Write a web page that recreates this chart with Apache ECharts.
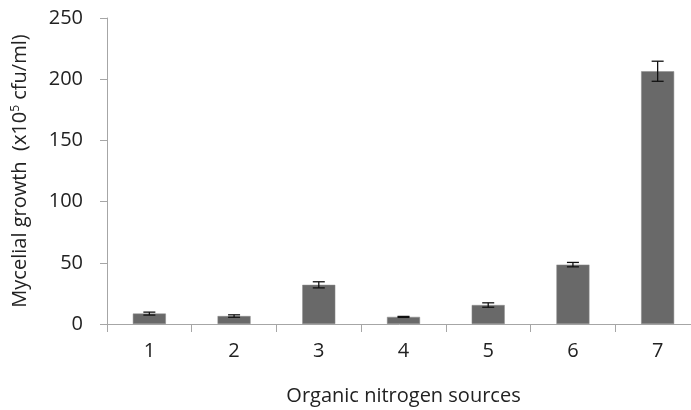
<!DOCTYPE html>
<html><head><meta charset="utf-8">
<script src="https://cdn.jsdelivr.net/npm/echarts@6/dist/echarts.min.js"></script>
<style>html,body{margin:0;padding:0;background:#fff}#c{width:691px;height:410px}</style>
</head><body><div id="c"></div>
<script>
var categories = ['1','2','3','4','5','6','7'];
var values = [8.5, 6.5, 32, 5.8, 15.5, 48.5, 206.5];
var errors = [1.2, 1.0, 2.5, 0.4, 1.8, 1.8, 8.2];
var yTicks = [0, 50, 100, 150, 200, 250];

var font = '"Open Sans", "Noto Sans", sans-serif';
var chart = echarts.init(document.getElementById('c'));
var errData = values.map(function(v, i){ return [i, v - errors[i], v + errors[i]]; });
chart.setOption({
  animation: false,
  grid: {left: 107, top: 18, bottom: 86, right: -9, outerBoundsMode: 'none', containLabel: false},
  xAxis: {
    type: 'category', data: categories, boundaryGap: true,
    axisLine: {lineStyle: {color: '#a6a6a6', width: 1}},
    axisTick: {show: true, length: 8, alignWithLabel: false, lineStyle: {color: '#a6a6a6'}},
    axisLabel: {color: '#222', fontSize: 20, fontFamily: font, margin: 17},
    name: 'Organic nitrogen sources', nameLocation: 'middle', nameGap: 62,
    nameTextStyle: {color: '#222', fontSize: 20, fontFamily: font}
  },
  yAxis: {
    type: 'value', min: yTicks[0], max: yTicks[yTicks.length-1], interval: 50,
    splitLine: {show: false},
    axisLine: {show: true, lineStyle: {color: '#a6a6a6', width: 1}},
    axisTick: {show: true, length: 7, lineStyle: {color: '#a6a6a6'}},
    axisLabel: {color: '#222', fontSize: 20, fontFamily: font, margin: 24},
    name: '{a|Mycelial growth  (x10}{s|5}{a| cfu/ml)}', nameLocation: 'middle', nameGap: 76, nameRotate: 90,
    nameTextStyle: {rich: {
      a: {color: '#222', fontSize: 20, fontFamily: font},
      s: {color: '#222', fontSize: 12, fontFamily: font, verticalAlign: 'top', padding: [0,0,9,0]}
    }}
  },
  series: [{
    type: 'bar', data: values, barWidth: 33,
    itemStyle: {color: '#696969', borderColor: '#8a8a8a', borderWidth: 0.5}
  }, {
    type: 'custom', data: errData, z: 10,
    renderItem: function(params, api){
      var x = api.value(0);
      var lo = api.coord([x, api.value(1)]);
      var hi = api.coord([x, api.value(2)]);
      var hw = 6;
      var st = {stroke: '#111', lineWidth: 1.3};
      return {type: 'group', children: [
        {type: 'line', shape: {x1: lo[0], y1: lo[1], x2: hi[0], y2: hi[1]}, style: st},
        {type: 'line', shape: {x1: lo[0]-hw, y1: lo[1], x2: lo[0]+hw, y2: lo[1]}, style: st},
        {type: 'line', shape: {x1: hi[0]-hw, y1: hi[1], x2: hi[0]+hw, y2: hi[1]}, style: st}
      ]};
    }
  }]
});
</script></body></html>
